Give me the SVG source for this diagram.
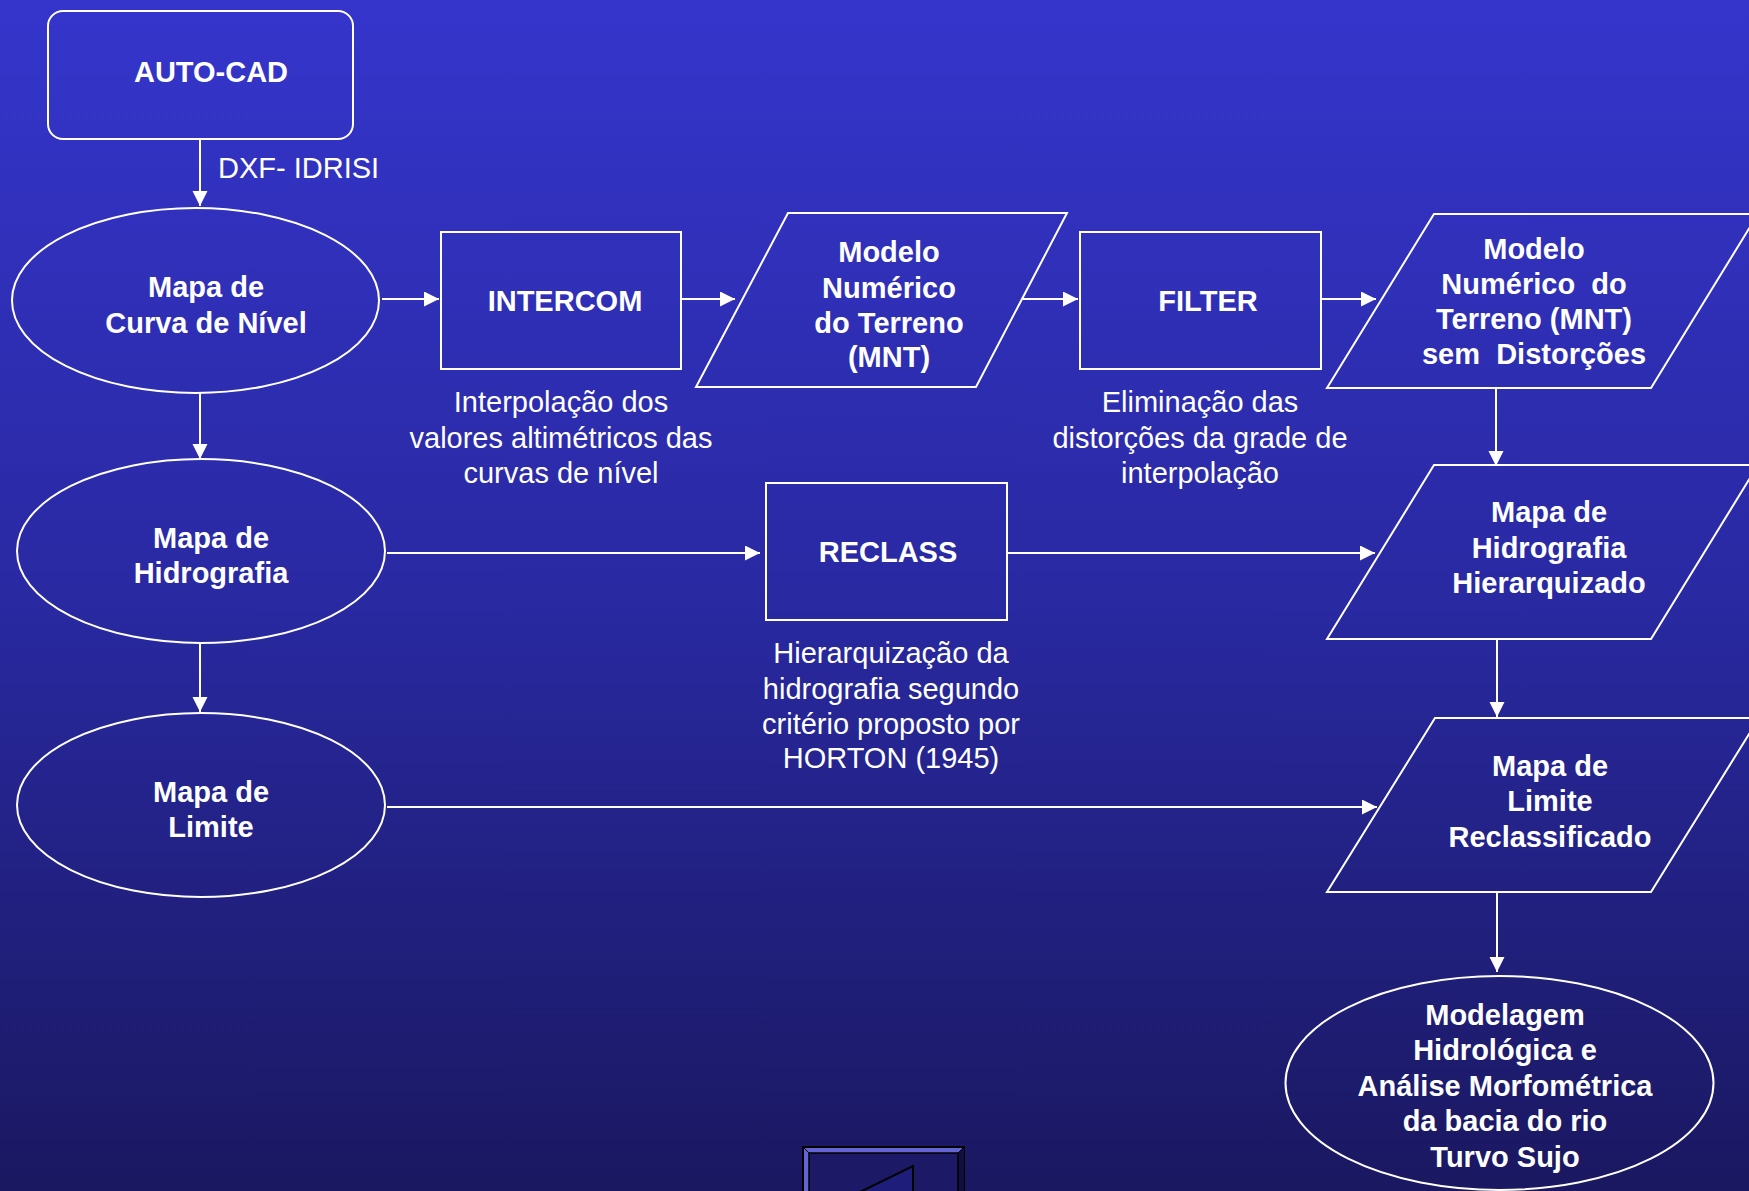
<svg xmlns="http://www.w3.org/2000/svg" width="1749" height="1191" viewBox="0 0 1749 1191">
<defs>
<linearGradient id="bg" x1="0" y1="0" x2="0" y2="1">
<stop offset="0" stop-color="#3535cc"/>
<stop offset="0.5" stop-color="#2929a2"/>
<stop offset="1" stop-color="#1a1860"/>
</linearGradient>
<marker id="arrow" markerUnits="userSpaceOnUse" markerWidth="16" markerHeight="16" refX="15" refY="7.5" orient="auto">
<path d="M0,0 L15,7.5 L0,15 z" fill="#ffffff"/>
</marker>
<style>
.shape{fill:none;stroke:#ffffff;stroke-width:2}
.lbl{font-family:"Liberation Sans",Arial,sans-serif;font-size:29px;font-weight:bold;fill:#ffffff;text-anchor:middle;white-space:pre}
.cap{font-family:"Liberation Sans",Arial,sans-serif;font-size:29px;fill:#ffffff;text-anchor:middle;white-space:pre}
.conn{fill:none;stroke:#ffffff;stroke-width:2;marker-end:url(#arrow)}
</style>
</defs>
<rect x="0" y="0" width="1749" height="1191" fill="url(#bg)"/>

<g id="connectors">
<line class="conn" x1="200" y1="139" x2="200" y2="206"/>
<line class="conn" x1="200" y1="393" x2="200" y2="459"/>
<line class="conn" x1="200" y1="643" x2="200" y2="712"/>
<line class="conn" x1="382" y1="299" x2="439" y2="299"/>
<line class="conn" x1="681" y1="299" x2="735" y2="299"/>
<line class="conn" x1="1023" y1="299" x2="1078" y2="299"/>
<line class="conn" x1="1321" y1="299" x2="1376" y2="299"/>
<line class="conn" x1="1496" y1="388" x2="1496" y2="466"/>
<line class="conn" x1="387" y1="553" x2="760" y2="553"/>
<line class="conn" x1="1007" y1="553" x2="1375" y2="553"/>
<line class="conn" x1="1497" y1="639" x2="1497" y2="717"/>
<line class="conn" x1="387" y1="807" x2="1377" y2="807"/>
<line class="conn" x1="1497" y1="892" x2="1497" y2="972"/>
</g>

<g id="autocad">
<rect class="shape" x="48" y="11" width="305" height="128" rx="15"/>
<text class="lbl" x="211" y="82">AUTO-CAD</text>
</g>
<text id="dxf-label" class="cap" x="218" y="178" style="text-anchor:start">DXF- IDRISI</text>

<g id="curva">
<ellipse class="shape" cx="195.5" cy="300.5" rx="183.5" ry="92.5"/>
<text class="lbl" x="206" y="297">Mapa de</text>
<text class="lbl" x="206" y="333">Curva de Nível</text>
</g>

<g id="hidrografia">
<ellipse class="shape" cx="201" cy="551" rx="184" ry="92"/>
<text class="lbl" x="211" y="548">Mapa de</text>
<text class="lbl" x="211" y="583">Hidrografia</text>
</g>

<g id="limite">
<ellipse class="shape" cx="201" cy="805" rx="184" ry="92"/>
<text class="lbl" x="211" y="802">Mapa de</text>
<text class="lbl" x="211" y="837">Limite</text>
</g>

<g id="intercom">
<rect class="shape" x="441" y="232" width="240" height="137"/>
<text class="lbl" x="565" y="311">INTERCOM</text>
</g>
<g id="intercom-caption">
<text class="cap" x="561" y="412">Interpolação dos</text>
<text class="cap" x="561" y="448">valores altimétricos das</text>
<text class="cap" x="561" y="483">curvas de nível</text>
</g>

<g id="mnt">
<polygon class="shape" points="788,213 1067,213 976,387 696,387"/>
<text class="lbl" x="889" y="262">Modelo</text>
<text class="lbl" x="889" y="298">Numérico</text>
<text class="lbl" x="889" y="333">do Terreno</text>
<text class="lbl" x="889" y="367">(MNT)</text>
</g>

<g id="filter">
<rect class="shape" x="1080" y="232" width="241" height="137"/>
<text class="lbl" x="1208" y="311">FILTER</text>
</g>
<g id="filter-caption">
<text class="cap" x="1200" y="412">Eliminação das</text>
<text class="cap" x="1200" y="448">distorções da grade de</text>
<text class="cap" x="1200" y="483">interpolação</text>
</g>

<g id="mnt-sem-distorcoes">
<polygon class="shape" points="1434,214 1758,214 1651,388 1327,388"/>
<text class="lbl" x="1534" y="259">Modelo</text>
<text class="lbl" x="1534" y="294">Numérico  do</text>
<text class="lbl" x="1534" y="329">Terreno (MNT)</text>
<text class="lbl" x="1534" y="364">sem  Distorções</text>
</g>

<g id="reclass">
<rect class="shape" x="766" y="483" width="241" height="137"/>
<text class="lbl" x="888" y="562">RECLASS</text>
</g>
<g id="reclass-caption">
<text class="cap" x="891" y="663">Hierarquização da</text>
<text class="cap" x="891" y="699">hidrografia segundo</text>
<text class="cap" x="891" y="734">critério proposto por</text>
<text class="cap" x="891" y="768">HORTON (1945)</text>
</g>

<g id="hidrografia-hierarquizado">
<polygon class="shape" points="1434,465 1758,465 1651,639 1327,639"/>
<text class="lbl" x="1549" y="522">Mapa de</text>
<text class="lbl" x="1549" y="558">Hidrografia</text>
<text class="lbl" x="1549" y="593">Hierarquizado</text>
</g>

<g id="limite-reclassificado">
<polygon class="shape" points="1435,718 1759,718 1651,892 1327,892"/>
<text class="lbl" x="1550" y="776">Mapa de</text>
<text class="lbl" x="1550" y="811">Limite</text>
<text class="lbl" x="1550" y="847">Reclassificado</text>
</g>

<g id="modelagem">
<ellipse class="shape" cx="1499.5" cy="1083" rx="214" ry="107"/>
<text class="lbl" x="1505" y="1025">Modelagem</text>
<text class="lbl" x="1505" y="1060">Hidrológica e</text>
<text class="lbl" x="1505" y="1096">Análise Morfométrica</text>
<text class="lbl" x="1505" y="1131">da bacia do rio</text>
<text class="lbl" x="1505" y="1167">Turvo Sujo</text>
</g>

<g id="nav-button">
<rect x="803" y="1147" width="161" height="110" fill="#6464d4" stroke="#000000" stroke-width="2"/>
<polygon points="964,1147 958,1153 958,1257 964,1257" fill="#10103e"/>
<rect x="809" y="1153" width="149" height="110" fill="#1c1a66" stroke="#000000" stroke-width="1.5"/>
<line x1="803" y1="1147" x2="809" y2="1153" stroke="#000000" stroke-width="1"/>
<line x1="964" y1="1147" x2="958" y2="1153" stroke="#000000" stroke-width="1"/>
<polygon points="913,1166 913,1215 813,1215" fill="#1f1d7a" stroke="#000000" stroke-width="2"/>
</g>
</svg>
